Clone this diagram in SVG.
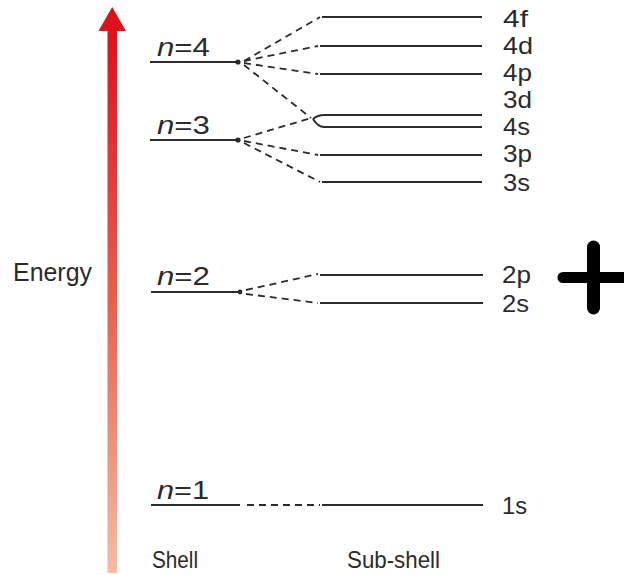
<svg xmlns="http://www.w3.org/2000/svg" width="624" height="575" viewBox="0 0 624 575">
<defs>
<linearGradient id="eg" x1="0" y1="0" x2="0" y2="1">
<stop offset="0" stop-color="#df0f1d"/>
<stop offset="0.5" stop-color="#e8604e"/>
<stop offset="1" stop-color="#f5bca4"/>
</linearGradient>
</defs>
<style>
.lv{stroke:#2b2b2b;stroke-width:2;fill:none}
.ds{stroke:#2b2b2b;stroke-width:1.8;fill:none;stroke-dasharray:7 5}
.t{font-family:"Liberation Sans",Arial,sans-serif;fill:#2b2b2b}
.lb{font-size:24px}
.nl{font-size:25px}
.ax{font-size:24px}
</style>
<rect width="624" height="575" fill="#fff"/>
<g id="energy-axis">
<rect x="107.5" y="28" width="9.5" height="545" fill="url(#eg)"/>
<polygon points="112.2,7 126,31 98.5,31" fill="#df0f1d"/>
<text class="t" x="13" y="281" font-size="26" textLength="79" lengthAdjust="spacingAndGlyphs">Energy</text>
</g>
<g id="connectors">
<path class="ds" d="M244,61 L320,17"/>
<path class="ds" d="M244,61 L318,46"/>
<path class="ds" d="M244,63 L318,74"/>
<path class="ds" d="M244,65 L311,118"/>
<path class="ds" d="M244,138 L311,118"/>
<path class="ds" d="M244,141 L318,155"/>
<path class="ds" d="M244,143 L320,182"/>
<path class="ds" d="M246,290 L318,274"/>
<path class="ds" d="M246,294 L318,303"/>
<path class="ds" d="M247,505 L320,505"/>
</g>
<g id="shell-4">
<line class="lv" x1="150" y1="62" x2="238" y2="62"/>
<circle cx="238" cy="62" r="2.6" fill="#2b2b2b"/>
<text class="t nl" x="157" y="56" textLength="53" lengthAdjust="spacingAndGlyphs"><tspan font-style="italic">n</tspan>=4</text>
</g>
<g id="shell-3">
<line class="lv" x1="150" y1="140" x2="238" y2="140"/>
<circle cx="238" cy="140" r="2.6" fill="#2b2b2b"/>
<text class="t nl" x="157" y="134" textLength="53" lengthAdjust="spacingAndGlyphs"><tspan font-style="italic">n</tspan>=3</text>
</g>
<g id="shell-2">
<line class="lv" x1="151" y1="292" x2="240" y2="292"/>
<circle cx="240" cy="292" r="2.4" fill="#2b2b2b"/>
<text class="t nl" x="157" y="285" textLength="53" lengthAdjust="spacingAndGlyphs"><tspan font-style="italic">n</tspan>=2</text>
</g>
<g id="shell-1">
<line class="lv" x1="151" y1="505" x2="240" y2="505"/>
<text class="t nl" x="157" y="499" textLength="52" lengthAdjust="spacingAndGlyphs"><tspan font-style="italic">n</tspan>=1</text>
</g>
<g id="sub-4f"><line class="lv" x1="322" y1="17" x2="482" y2="17"/><text class="t lb" x="503" y="27" textLength="25" lengthAdjust="spacingAndGlyphs">4f</text></g>
<g id="sub-4d"><line class="lv" x1="320" y1="46" x2="482" y2="46"/><text class="t lb" x="503" y="54" textLength="30" lengthAdjust="spacingAndGlyphs">4d</text></g>
<g id="sub-4p"><line class="lv" x1="320" y1="74" x2="482" y2="74"/><text class="t lb" x="503" y="81" textLength="29" lengthAdjust="spacingAndGlyphs">4p</text></g>
<g id="sub-3d"><path class="lv" d="M313,119 Q318,115 324,115 L482,115"/><text class="t lb" x="503" y="108" textLength="29" lengthAdjust="spacingAndGlyphs">3d</text></g>
<g id="sub-4s"><path class="lv" d="M313,119 Q318,127 324,127 L482,127"/><text class="t lb" x="503" y="135" textLength="27" lengthAdjust="spacingAndGlyphs">4s</text></g>
<g id="sub-3p"><line class="lv" x1="320" y1="155" x2="482" y2="155"/><text class="t lb" x="503" y="162" textLength="29" lengthAdjust="spacingAndGlyphs">3p</text></g>
<g id="sub-3s"><line class="lv" x1="322" y1="182" x2="482" y2="182"/><text class="t lb" x="503" y="191" textLength="27" lengthAdjust="spacingAndGlyphs">3s</text></g>
<g id="sub-2p"><line class="lv" x1="320" y1="275" x2="483" y2="275"/><text class="t lb" x="502" y="283" textLength="29" lengthAdjust="spacingAndGlyphs">2p</text></g>
<g id="sub-2s"><line class="lv" x1="320" y1="303" x2="483" y2="303"/><text class="t lb" x="502" y="312" textLength="27" lengthAdjust="spacingAndGlyphs">2s</text></g>
<g id="sub-1s"><line class="lv" x1="322" y1="505" x2="483" y2="505"/><text class="t lb" x="502" y="514" textLength="25" lengthAdjust="spacingAndGlyphs">1s</text></g>
<g id="labels">
<text class="t ax" x="152" y="568" textLength="46" lengthAdjust="spacingAndGlyphs">Shell</text>
<text class="t ax" x="347" y="568" textLength="93" lengthAdjust="spacingAndGlyphs">Sub-shell</text>
</g>
<g id="plus">
<line x1="563" y1="277.5" x2="623" y2="277.5" stroke="#000" stroke-width="11" stroke-linecap="round"/>
<line x1="593.5" y1="247" x2="593.5" y2="308" stroke="#000" stroke-width="13" stroke-linecap="round"/>
</g>
</svg>
